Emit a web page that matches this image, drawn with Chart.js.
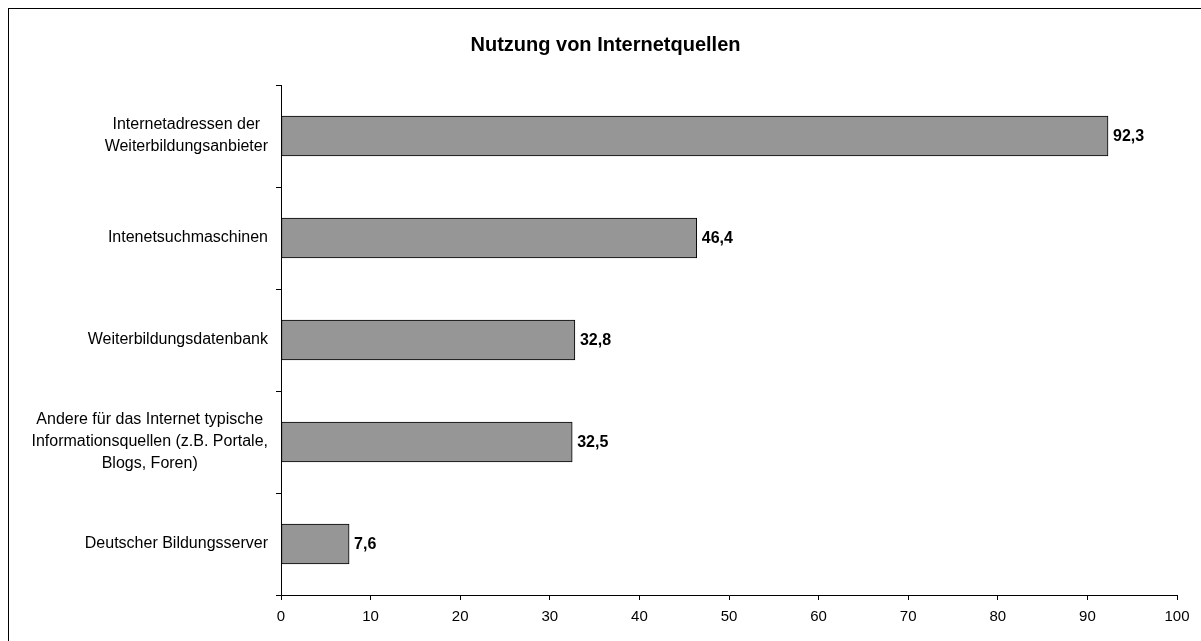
<!DOCTYPE html>
<html>
<head>
<meta charset="utf-8">
<script src="https://cdn.jsdelivr.net/npm/chart.js@4"></script>
<style>
  html, body { margin: 0; padding: 0; background: #fff; }
  canvas { display: block; }
</style>
</head>
<body>
<canvas id="internetChart" width="1201" height="641"></canvas>
<script>
const chartTitle = "Nutzung von Internetquellen";
const categories = [
  ["Internetadressen der", "Weiterbildungsanbieter"],
  ["Intenetsuchmaschinen"],
  ["Weiterbildungsdatenbank"],
  ["Andere für das Internet typische", "Informationsquellen (z.B. Portale,", "Blogs, Foren)"],
  ["Deutscher Bildungsserver"]
];
const values = [92.3, 46.4, 32.8, 32.5, 7.6];
const xTicks = [0, 10, 20, 30, 40, 50, 60, 70, 80, 90, 100];

const fontFamily = "'Liberation Sans', Arial, sans-serif";

// frame round the chart (only top and left edge are visible)
const framePlugin = {
  id: "frame",
  beforeDraw(chart) {
    const ctx = chart.ctx;
    ctx.save();
    ctx.fillStyle = "#fff";
    ctx.fillRect(0, 0, chart.width, chart.height);
    ctx.strokeStyle = "#000";
    ctx.lineWidth = 1;
    ctx.strokeRect(8.5, 8.5, chart.width + 50, chart.height + 50);
    ctx.restore();
  }
};

// category labels: each block centered on itself, right edge fixed
const categoryLabelPlugin = {
  id: "categoryLabels",
  afterDraw(chart) {
    const ctx = chart.ctx;
    const yScale = chart.scales.y;
    const rightEdge = yScale.right - 13;
    ctx.save();
    ctx.font = "16px " + fontFamily;
    ctx.fillStyle = "#000";
    ctx.textAlign = "center";
    ctx.textBaseline = "middle";
    categories.forEach((lines, i) => {
      const w = Math.max(...lines.map(l => ctx.measureText(l).width));
      const cx = rightEdge - w / 2;
      const cy = yScale.getPixelForValue(i);
      const lh = 22;
      lines.forEach((line, j) => {
        ctx.fillText(line, cx, cy + (j - (lines.length - 1) / 2) * lh);
      });
    });
    ctx.restore();
  }
};

// value labels at the end of each bar
const valueLabelPlugin = {
  id: "valueLabels",
  afterDatasetsDraw(chart) {
    const ctx = chart.ctx;
    const meta = chart.getDatasetMeta(0);
    ctx.save();
    ctx.font = "bold 16px " + fontFamily;
    ctx.fillStyle = "#000";
    ctx.textAlign = "left";
    ctx.textBaseline = "middle";
    meta.data.forEach((bar, i) => {
      const txt = values[i].toFixed(1).replace(".", ",");
      ctx.fillText(txt, bar.x + 5, bar.y + 1);
    });
    ctx.restore();
  }
};

new Chart(document.getElementById("internetChart").getContext("2d"), {
  type: "bar",
  data: {
    labels: categories.map(l => l.join(" ")),
    datasets: [
      {
        label: chartTitle,
        data: values,
        backgroundColor: "#969696",
        borderColor: "#000",
        borderWidth: 1,
        borderSkipped: false,
        barThickness: 40
      }
    ]
  },
  options: {
    indexAxis: "y",
    responsive: false,
    animation: false,
    devicePixelRatio: 1,
    layout: {
      padding: { left: 34, right: 24, top: 0, bottom: 0 }
    },
    plugins: {
      legend: { display: false },
      tooltip: { enabled: false },
      title: {
        display: true,
        text: chartTitle,
        color: "#000",
        font: { family: fontFamily, size: 20, weight: "bold" },
        padding: { top: 33, bottom: 28 }
      }
    },
    scales: {
      x: {
        min: 0,
        max: 100,
        afterBuildTicks: (scale) => {
          scale.ticks = xTicks.map(v => ({ value: v }));
        },
        afterFit: (scale) => { scale.height = 46; },
        border: { display: true, color: "#000", width: 1 },
        grid: {
          drawOnChartArea: false,
          drawTicks: true,
          tickLength: 5,
          color: "#000"
        },
        ticks: {
          color: "#000",
          padding: 8,
          maxRotation: 0,
          font: { family: fontFamily, size: 15 }
        }
      },
      y: {
        afterFit: (scale) => { scale.width = 247; },
        border: { display: true, color: "#000", width: 1 },
        grid: {
          offset: true,
          drawOnChartArea: false,
          drawTicks: true,
          tickLength: 5,
          color: "#000"
        },
        ticks: { display: false }
      }
    }
  },
  plugins: [framePlugin, categoryLabelPlugin, valueLabelPlugin]
});
</script>
</body>
</html>
